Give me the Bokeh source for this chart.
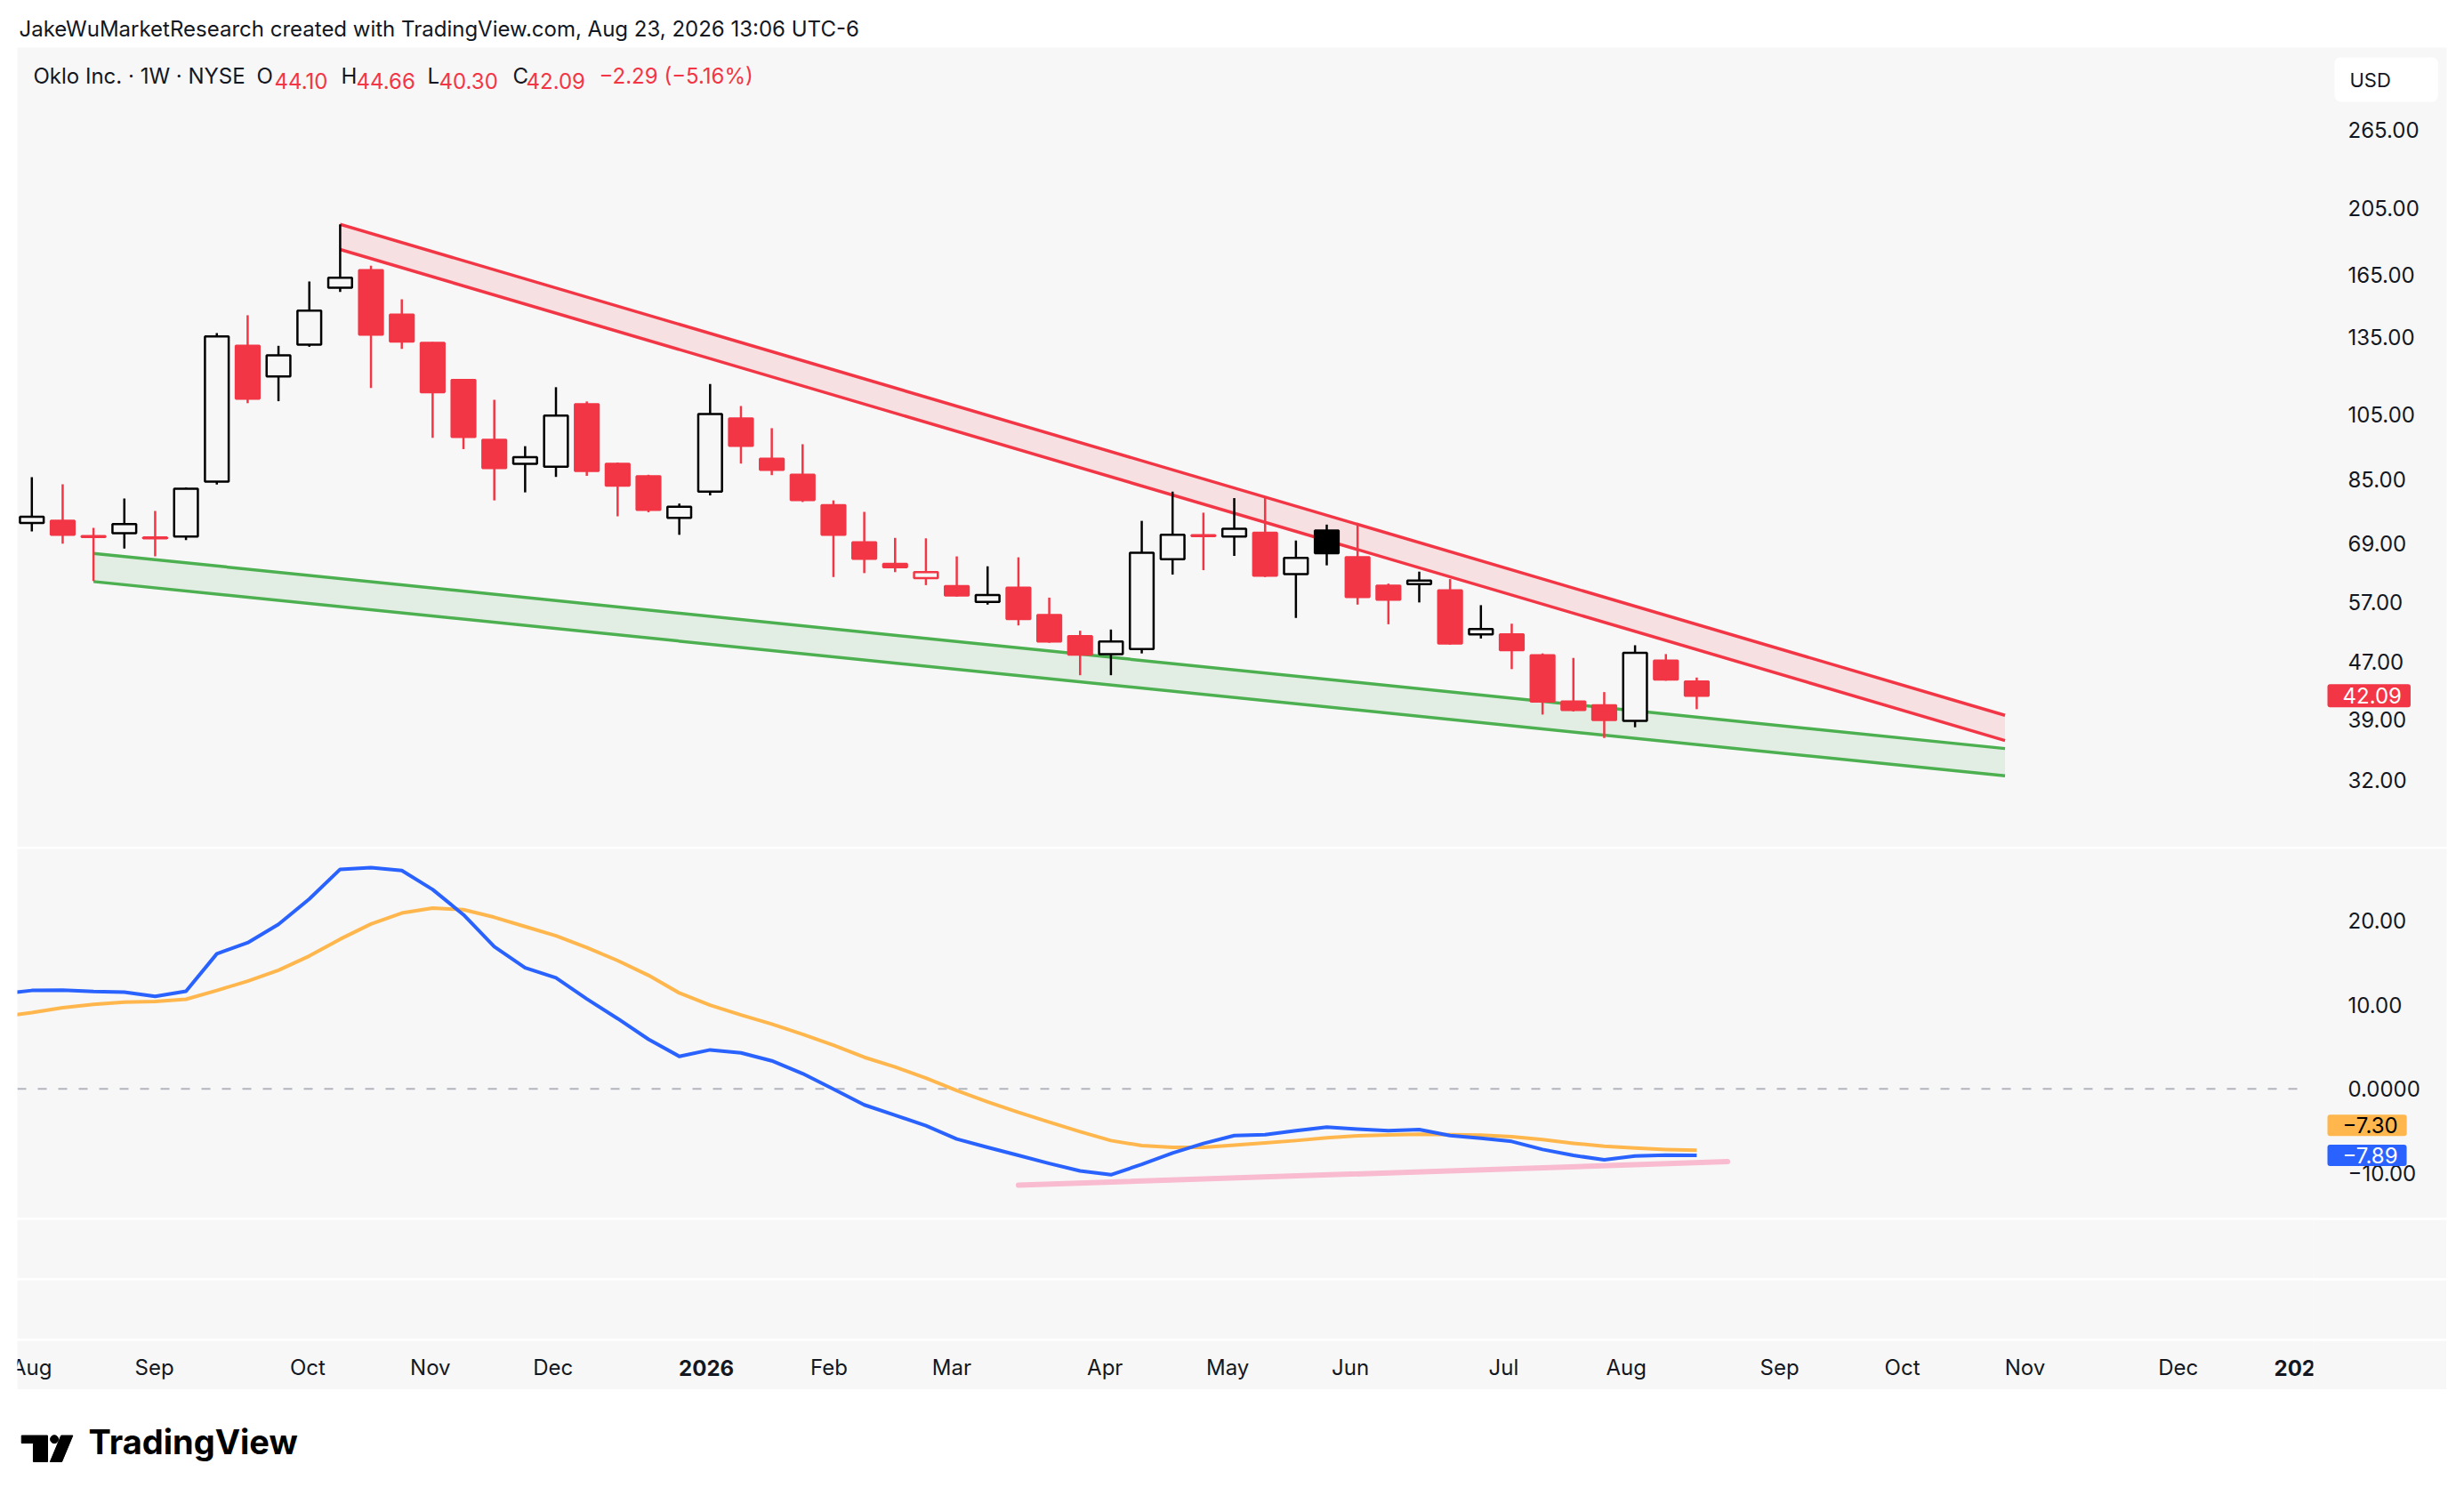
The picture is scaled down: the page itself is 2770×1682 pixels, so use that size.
import numpy as np
from bokeh.plotting import figure
from bokeh.models import (Range1d, FixedTicker, NumeralTickFormatter, CustomJSTickFormatter,
                          Label, ColumnDataSource, Spacer)
from bokeh.layouts import column, row
from bokeh.embed import file_html
from bokeh.resources import INLINE
from bokeh.core.properties import value

# ---------------- data ----------------
TITLE = "JakeWuMarketResearch created with TradingView.com, Aug 23, 2026 13:06 UTC-6"
SYMBOL = "Oklo Inc. \u00b7 1W \u00b7 NYSE"

# weekly bars, index 0 = week of Aug 4 2025
OPEN = [73.8, 74.3, 70.7, 71.4, 70.4, 70.6, 84.4, 131.2, 118.8, 131.7,
        158.5, 167.7, 145.2, 132.5, 117.4, 96.7, 89.4, 88.6, 108.5, 89.4,
        85.9, 75.0, 81.7, 103.6, 90.9, 86.3, 78.2, 69.3, 64.6, 61.7,
        60.1, 57.1, 59.8, 54.7, 51.1, 48.2, 49.0, 65.6, 70.9, 70.6,
        71.5, 62.5, 72.0, 66.0, 60.2, 60.5, 59.3, 51.4, 51.4, 48.0,
        41.3, 40.8, 38.8, 47.2, 44.10]
HIGH = [85.6, 83.7, 72.6, 79.9, 76.7, 82.8, 136.7, 144.9, 131.2, 161.7,
        194.7, 170.2, 152.6, 132.8, 117.8, 110.1, 94.7, 114.7, 109.5, 89.8,
        86.3, 78.6, 115.9, 107.9, 100.4, 95.3, 79.4, 76.5, 70.3, 70.2,
        66.2, 64.1, 66.0, 57.9, 52.0, 52.2, 74.3, 81.7, 76.3, 80.0,
        80.0, 69.7, 73.4, 73.6, 60.6, 63.0, 61.5, 56.5, 53.2, 48.3,
        47.6, 42.6, 49.6, 48.2, 44.66]
LOW = [71.8, 69.0, 61.1, 67.9, 66.2, 69.8, 83.6, 108.9, 109.6, 130.8,
       156.3, 114.4, 129.9, 97.3, 93.8, 79.4, 81.5, 85.7, 86.0, 75.4,
       76.4, 71.0, 80.7, 89.5, 86.2, 79.0, 61.9, 62.7, 62.9, 60.3,
       58.1, 56.6, 52.9, 50.0, 45.0, 45.0, 48.3, 62.4, 63.3, 66.3,
       61.9, 54.2, 64.3, 56.6, 53.1, 57.0, 49.7, 50.7, 45.9, 39.6,
       40.0, 36.7, 38.0, 44.2, 40.30]
CLOSE = [75.3, 71.0, 70.5, 73.5, 70.2, 82.5, 135.3, 110.5, 127.2, 147.1,
         163.7, 136.1, 133.0, 112.8, 97.6, 88.2, 91.4, 104.6, 87.4, 83.3,
         77.0, 77.8, 105.1, 94.8, 87.7, 79.5, 71.0, 65.7, 63.9, 62.9,
         58.3, 58.4, 54.0, 50.2, 48.1, 50.2, 67.0, 71.0, 70.7, 72.4,
         62.2, 65.9, 66.9, 58.0, 57.5, 61.2, 49.9, 52.3, 48.8, 41.3,
         40.2, 38.9, 48.4, 44.38, 42.09]

# oscillator (index -1 .. 54)
OSC_X = list(range(-1, 55))
MACD = [11.3, 11.7, 11.75, 11.57, 11.5, 11.0, 11.6, 16.06, 17.37, 19.56, 22.57,
        26.1, 26.3, 25.96, 23.7, 20.7, 16.9, 14.4, 13.2, 10.7, 8.36,
        5.9, 3.87, 4.64, 4.29, 3.34, 1.82, -0.02, -1.9, -3.13, -4.37,
        -5.96, -6.95, -7.9, -8.86, -9.74, -10.2, -8.97, -7.62, -6.49, -5.54,
        -5.43, -4.97, -4.55, -4.79, -4.97, -4.83, -5.54, -5.85, -6.24, -7.2,
        -7.9, -8.43, -7.97, -7.87, -7.89]
SIGNAL = [8.6, 9.06, 9.66, 10.05, 10.3, 10.4, 10.66, 11.7, 12.8, 14.1, 15.8,
          17.8, 19.6, 20.9, 21.5, 21.3, 20.4, 19.3, 18.2, 16.8, 15.25,
          13.5, 11.4, 9.95, 8.8, 7.7, 6.5, 5.2, 3.76, 2.6, 1.29,
          -0.2, -1.54, -2.78, -3.94, -5.08, -6.14, -6.74, -6.95, -6.95, -6.67,
          -6.42, -6.14, -5.82, -5.57, -5.46, -5.39, -5.43, -5.5, -5.68, -6.03,
          -6.46, -6.81, -7.02, -7.2, -7.3]

# drawings
RED_CH_X = [10, 64]
RED_CH_UPPER = [194.7, 39.5]
RED_CH_LOWER = [179.4, 36.4]
GREEN_CH_X = [2, 64]
GREEN_CH_UPPER = [66.85, 35.46]
GREEN_CH_LOWER = [61.0, 32.45]
DIV_X = [32, 55]
DIV_Y = [-11.44, -8.64]

PRICE_TICKS = [32, 39, 47, 57, 69, 85, 105, 135, 165, 205, 265]
OSC_TICKS = [-10, 0, 10, 20]
MONTH_TICKS = [0, 4, 9, 13, 17, 22, 26, 30, 35, 39, 43, 48, 52, 57, 61, 65, 70, 74]
MONTH_LABELS = ["Aug", "Sep", "Oct", "Nov", "Dec", "2026", "Feb", "Mar", "Apr", "May",
                "Jun", "Jul", "Aug", "Sep", "Oct", "Nov", "Dec", "2027"]

# ---------------- style ----------------
BG = "#f7f7f7"
SEP = "#e0e3eb"
TXT = "#131722"
UP = "#000000"
DOWN = "#f23645"
BLUE = "#2962ff"
ORANGE = "#ffb74d"
FONT = "Inter"
AX_FS = "24px"
TX_FS = "24px"
W = 2731          # panel width in px
SCALE_W = 136     # price-scale column width in px
AX_PAD = 150      # off-page border that holds the (relocated) axis panel
BAR_PX = 34.66    # px per weekly bar
X0 = -0.47
AXIS_X = X0 + (W - SCALE_W) / BAR_PX
XR = Range1d(X0, X0 + W / BAR_PX)          # panes (incl. scale column)
XR_T = Range1d(X0, AXIS_X)                 # time axis band (clipped at the scale)

def base_fig(h, xr=XR, width=W, rb=0, **kw):
    p = figure(width=width, height=h, x_range=xr, output_backend="svg", toolbar_location=None,
               min_border_left=0, min_border_right=rb, min_border_top=0, min_border_bottom=0,
               background_fill_color=BG, border_fill_color=BG, outline_line_color=None, **kw)
    p.grid.visible = False
    return p

def pane_fig(h, **kw):
    # frame is exactly W wide; the axis is drawn at a fixed location inside it
    p = base_fig(h, width=W + AX_PAD, rb=AX_PAD, y_axis_location="right",
                 x_axis_location=None, **kw)
    p.border_fill_color = "white"
    ax = p.yaxis[0]
    ax.fixed_location = AXIS_X
    ax.axis_line_color = None
    ax.major_tick_line_color = None
    ax.minor_tick_line_color = None
    ax.major_label_standoff = 19
    ax.major_label_text_font = FONT
    ax.major_label_text_font_size = AX_FS
    ax.major_label_text_color = TXT
    return p

# ---------------- header ----------------
header = figure(width=W, height=45, x_range=(0, 1), y_range=(0, 1), output_backend="svg",
                toolbar_location=None, min_border=0, x_axis_location=None, y_axis_location=None,
                background_fill_color="white", border_fill_color="white", outline_line_color=None)
header.grid.visible = False
header.add_layout(Label(x=2, y=7, x_units="screen", y_units="screen", text=TITLE,
                        text_font=FONT, text_font_size=TX_FS, text_color=TXT))

# ---------------- main pane ----------------
main = pane_fig(899, y_range=Range1d(25.74, 345.7), y_axis_type="log")
main.yaxis[0].ticker = FixedTicker(ticks=PRICE_TICKS)
main.yaxis[0].formatter = NumeralTickFormatter(format="0.00")

for xs, up, lo, col in ((RED_CH_X, RED_CH_UPPER, RED_CH_LOWER, DOWN),
                        (GREEN_CH_X, GREEN_CH_UPPER, GREEN_CH_LOWER, "#4caf50")):
    main.patch(xs + xs[::-1], up + lo[::-1], fill_color=col, fill_alpha=0.12, line_color=None)
    main.line(xs, up, line_color=col, line_width=3.5)
    main.line(xs, lo, line_color=col, line_width=3.5)

o = np.array(OPEN); c = np.array(CLOSE)
prev = np.concatenate([[o[0]], c[:-1]])
colors = np.where(c >= prev, UP, DOWN)
fills = np.where(c > o, BG, colors)
src = ColumnDataSource(dict(x=np.arange(len(OPEN)), h=HIGH, l=LOW,
                            top=np.maximum(o, c), bot=np.minimum(o, c),
                            color=colors, fill=fills))
main.segment(x0="x", y0="h", x1="x", y1="l", color="color", line_width=2.5, source=src)
main.vbar(x="x", width=0.77, top="top", bottom="bot", fill_color="fill",
          line_color="color", line_width=2.5, source=src)

chg = CLOSE[-1] - CLOSE[-2]
pct = chg / CLOSE[-2] * 100
def sgn(v, fmt):
    s = format(abs(v), fmt)
    return ("\u2212" + s) if v < 0 else ("+" + s)
LEG_Y = 853
legend_parts = [
    (18, SYMBOL, TXT), (269, "O", TXT), (289, f"{OPEN[-1]:.2f}", DOWN),
    (364, "H", TXT), (381, f"{HIGH[-1]:.2f}", DOWN),
    (461, "L", TXT), (474, f"{LOW[-1]:.2f}", DOWN),
    (557, "C", TXT), (572, f"{CLOSE[-1]:.2f}", DOWN),
    (654, f"{sgn(chg, '.2f')} ({sgn(pct, '.2f')}%)", DOWN),
]
for lx, t, col in legend_parts:
    main.add_layout(Label(x=lx, y=LEG_Y, x_units="screen", y_units="screen", text=t,
                          text_font=FONT, text_font_size=TX_FS, text_color=col))

BOX_X = W - SCALE_W + 2          # left edge of the value boxes on the price scale
main.add_layout(Label(x=BOX_X + 8, y=863, x_units="screen", y_units="screen", text="USD",
                      text_font=FONT, text_font_size="22px", text_color=TXT, text_baseline="middle",
                      background_fill_color="white",
                      padding=dict(left=17, right=53, top=12, bottom=12), border_radius=7))
main.add_layout(Label(x=BOX_X, y=CLOSE[-1], x_units="screen", y_units="data",
                      text=f"{CLOSE[-1]:.2f}", text_font=FONT, text_font_size=AX_FS,
                      text_color="white", text_baseline="middle", background_fill_color=DOWN,
                      padding=dict(left=17, right=10, top=4, bottom=4), border_radius=3))

# ---------------- oscillator pane ----------------
ind = pane_fig(415, y_range=Range1d(-15.35, 28.52))
ind.yaxis[0].ticker = FixedTicker(ticks=OSC_TICKS)
ind.yaxis[0].formatter = CustomJSTickFormatter(code="""
    if (tick == 0) return "0.0000";
    const s = Math.abs(tick).toFixed(2);
    return tick < 0 ? "\\u2212" + s : s;""")
ind.segment(x0=[XR.start], y0=[0], x1=[AXIS_X - 0.6], y1=[0], line_color="#b2b5be",
            line_dash="10 13", line_width=2)
ind.line(DIV_X, DIV_Y, line_color="#f8bbd0", line_width=6, line_cap="round")
ind.line(OSC_X, SIGNAL, line_color=ORANGE, line_width=4, line_join="round")
ind.line(OSC_X, MACD, line_color=BLUE, line_width=4, line_join="round")

def osc_label(v, bg, fg, yoff):
    s = f"{abs(v):.2f}"
    ind.add_layout(Label(x=BOX_X, y=v, x_units="screen", y_units="data", y_offset=yoff,
                         text=("\u2212" + s) if v < 0 else s, text_font=FONT,
                         text_font_size=AX_FS, text_color=fg, text_baseline="middle",
                         background_fill_color=bg,
                         padding=dict(left=17, right=10, top=3, bottom=3), border_radius=3))
osc_label(SIGNAL[-1], ORANGE, "#000000", 28)
osc_label(MACD[-1], BLUE, "white", 0)

# ---------------- empty panes + separators ----------------
def sep():
    s = figure(width=W, height=2, x_range=(0, 1), y_range=(0, 1), output_backend="svg",
               toolbar_location=None, min_border=0, x_axis_location=None, y_axis_location=None,
               background_fill_color=SEP, border_fill_color=SEP, outline_line_color=None)
    s.grid.visible = False
    return s

e1 = base_fig(66, y_range=Range1d(0, 1), x_axis_location=None, y_axis_location=None)
e2 = base_fig(66, y_range=Range1d(0, 1), x_axis_location=None, y_axis_location=None)

# ---------------- time axis ----------------
xfig = base_fig(55, xr=XR_T, rb=SCALE_W, y_range=Range1d(0, 1),
                x_axis_location=None, y_axis_location=None)
m_idx = [i for i, t in enumerate(MONTH_LABELS) if not t.isdigit()]
y_idx = [i for i, t in enumerate(MONTH_LABELS) if t.isdigit()]
xfig.text(x=[MONTH_TICKS[i] for i in m_idx], y=[0.45] * len(m_idx),
          text=[MONTH_LABELS[i] for i in m_idx], text_font=value(FONT),
          text_font_size=AX_FS, text_color=TXT, text_align="center", text_baseline="middle")
xfig.text(x=[MONTH_TICKS[i] for i in y_idx], y=[0.45] * len(y_idx),
          text=[MONTH_LABELS[i] for i in y_idx], text_font=value(FONT), text_font_style="bold",
          text_font_size=AX_FS, text_color=TXT, text_align="center", text_baseline="middle")

# ---------------- logo ----------------
logo = figure(width=W, height=104, x_range=(0, W), y_range=(0, 104), output_backend="svg",
              toolbar_location=None, min_border=0, x_axis_location=None, y_axis_location=None,
              background_fill_color="white", border_fill_color="white", outline_line_color=None)
logo.grid.visible = False
logo.patch([5, 36, 36, 19, 19, 5], [52.5, 52.5, 23, 23, 44, 44], color="#000000")
logo.scatter([44], [48.3], size=9, color="#000000")
logo.patch([52, 66, 53, 39], [52.5, 52.5, 23, 23], color="#000000")
logo.add_layout(Label(x=80, y=23, x_units="screen", y_units="screen", text="TradingView",
                      text_font=FONT, text_font_style="bold", text_font_size="38px",
                      text_color="#000000"))

charts = column(header, main, sep(), ind, sep(), e1, sep(), e2, sep(), xfig, logo, spacing=0)
layout = column(Spacer(width=10, height=8),
                row(Spacer(width=19, height=10), charts, spacing=0), spacing=0)

open("out.html", "w").write(file_html(layout, INLINE))
